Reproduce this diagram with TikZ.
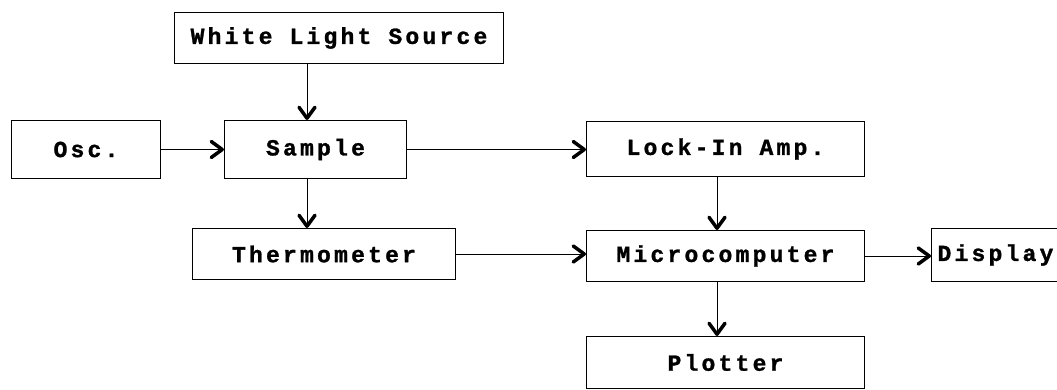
\documentclass[tikz,border=0pt]{standalone}
\usepackage{fontspec}
\newfontfamily\boxfont[LetterSpace=14, BoldFeatures={FakeBold=1.2}]{Liberation Mono}
\usetikzlibrary{arrows.meta}
\begin{document}
\begin{tikzpicture}[x=1pt,y=-1pt,
  blk/.style={draw, line width=1pt, inner sep=0pt, anchor=north west,
    font=\boxfont\bfseries\fontsize{23}{23}\selectfont},
  arr/.style={line width=1pt,
    -{Straight Barb[length=11pt,width=16pt,line width=3.5pt,round]}}
]
\useasboundingbox (0,0) rectangle (1057,390);

% blocks
\node[blk, minimum width=329pt, minimum height=51pt] (wls) at (174,12) {White Light Source};
\node[blk, minimum width=149pt, minimum height=58pt] (osc) at (11,120) {Osc.};
\node[blk, minimum width=182pt, minimum height=58pt] (sample) at (224,120) {Sample};
\node[blk, minimum width=278pt, minimum height=55pt] (lockin) at (586,121) {Lock-In Amp.};
\node[blk, minimum width=263pt, minimum height=51pt] (thermo) at (192,228) {Thermometer};
\node[blk, minimum width=278pt, minimum height=51pt] (micro) at (586,230) {Microcomputer};
\node[blk, minimum height=53pt, inner xsep=6pt, text width=238pt, align=left] (display) at (931,228) {Display};
\node[blk, minimum width=278pt, minimum height=52pt] (plotter) at (586,336) {Plotter};

% columns of the vertical connectors
\coordinate (c1) at (307,0);
\coordinate (c2) at (717,0);

% connectors
\draw[arr] (wls.south -| c1) -- (sample.north -| c1);
\draw[arr] (osc.east) -- (sample.west |- osc.east);
\draw[arr] (sample.east) -- (lockin.west |- sample.east);
\draw[arr] (sample.south -| c1) -- (thermo.north -| c1);
\draw[arr] (lockin.south -| c2) -- (micro.north -| c2);
\draw[arr] (thermo.east) -- (micro.west |- thermo.east);
\draw[arr] (micro.east) -- (display.west |- micro.east);
\draw[arr] (micro.south -| c2) -- (plotter.north -| c2);
\end{tikzpicture}
\end{document}
